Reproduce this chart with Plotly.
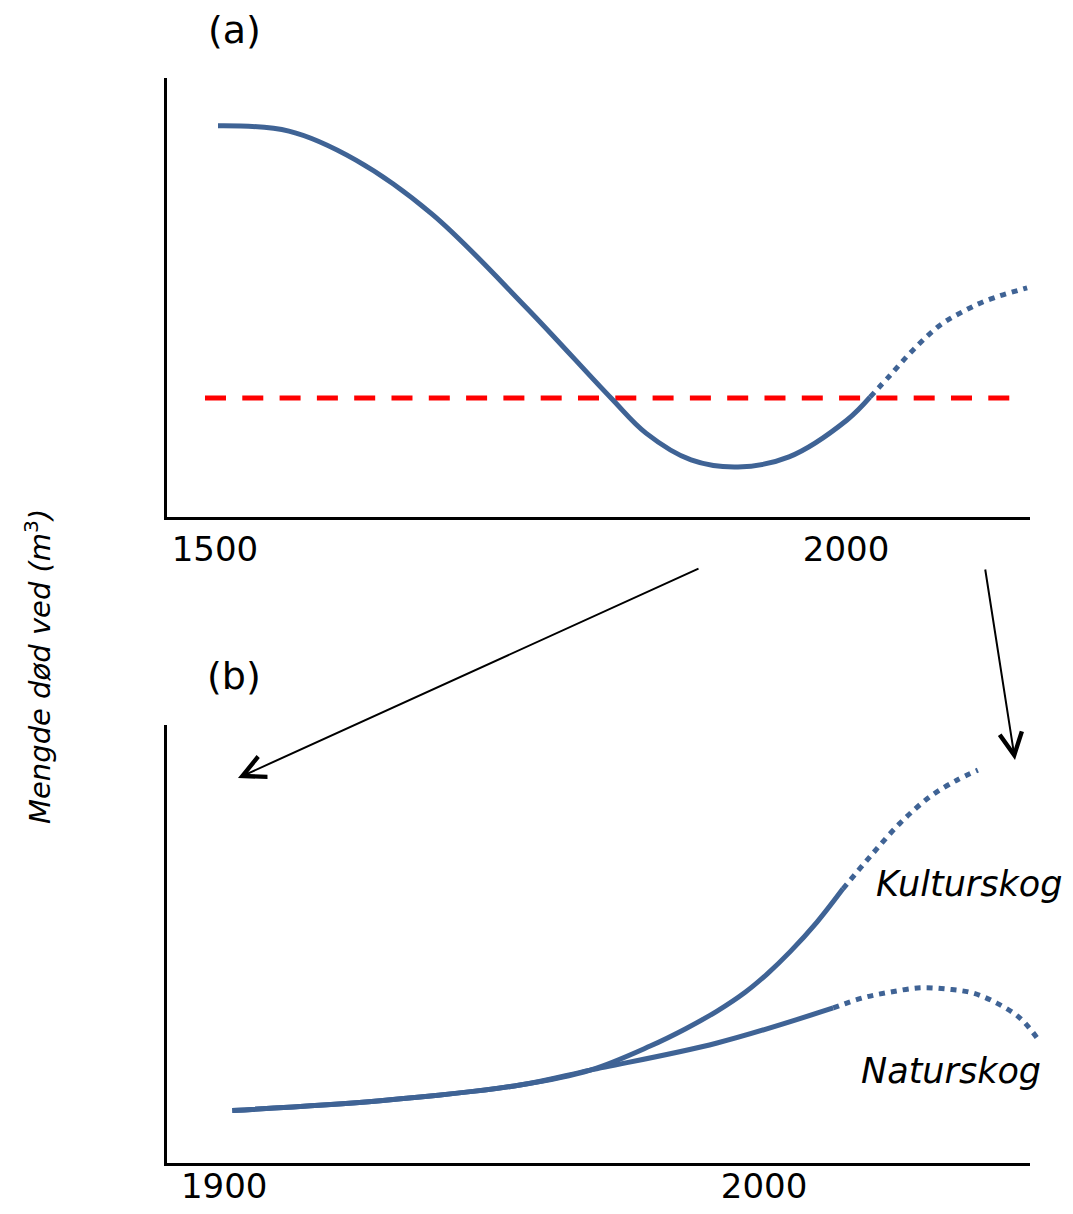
import plotly.graph_objects as go

# ---------------- data ----------------
# Panel (a): long-term trend of dead wood volume (arbitrary units 0-100)
a_years_hist = [1502.4, 1558.6, 1611.7, 1672.0, 1746.4, 1813.8, 1841.5, 1877.2,
                1914.4, 1954.8, 2000.8, 2019.0]
a_vals_hist = [89.1, 87.9, 81.3, 69.0, 47.8, 27.1, 19.1, 13.0,
               11.4, 13.7, 22.1, 27.3]
a_years_proj = [2019.0, 2035, 2053, 2074.5, 2092, 2112, 2143.5]
a_vals_proj = [27.3, 32.3, 38.0, 43.7, 46.7, 49.4, 52.2]
threshold_years = [1492.1, 2130.1]
threshold_vals = [27.1, 27.1]
a_tickvals = [1500, 2000]
a_ticktext = ["1500", "2000"]

# Panel (b): recent period, two forest types (shared start, then diverging)
b_base_years = [1901.5, 1928.9, 1954.8, 1967.8]
b_base_vals = [12.0, 14.2, 17.8, 21.2]
kultur_years = [1978.9, 1985.4, 1991.3, 1996.5, 2000.6, 2004.8, 2009.8, 2014.6]
kultur_vals = [26.7, 30.6, 34.7, 39.0, 43.2, 48.2, 55.0, 62.6]
kultur_proj_years = [2014.6, 2019.6, 2025.2, 2030.7, 2035.7, 2039.6]
kultur_proj_vals = [62.6, 69.9, 77.6, 83.6, 87.4, 89.7]
natur_years = [1991.3, 2012.8]
natur_vals = [27.4, 35.4]
natur_proj_years = [2012.8, 2018.3, 2023.3, 2028.9, 2033.9, 2038.7, 2043.1, 2047.4, 2050.6]
natur_proj_vals = [35.4, 37.7, 39.0, 40.0, 39.7, 38.8, 36.5, 33.1, 28.5]
b_tickvals = [1900, 2000]
b_ticktext = ["1900", "2000"]

# ---------------- style / geometry ----------------
BLUE = "#3F6395"
FONT = "DejaVu Sans"
PAGE_W, PAGE_H = 1073, 1214
OX, OY = 8, 8                      # page body margin
W, H = PAGE_W - OX, PAGE_H - OY


def px(p):
    return (p - OX) / W


def py(p):
    return 1 - (p - OY) / H


fig = go.Figure()


def curve(x, y, xa, ya, dash="solid"):
    fig.add_trace(go.Scatter(x=x, y=y, mode="lines", xaxis=xa, yaxis=ya,
                             line=dict(color=BLUE, width=5, shape="spline", smoothing=1.0,
                                       dash=dash),
                             showlegend=False, hoverinfo="skip"))


# panel a
fig.add_trace(go.Scatter(x=threshold_years, y=threshold_vals, mode="lines",
                         xaxis="x", yaxis="y",
                         line=dict(color="#FF0000", width=5, dash="21px,16.3px"),
                         showlegend=False, hoverinfo="skip"))
curve(a_years_hist, a_vals_hist, "x", "y")
curve(a_years_proj, a_vals_proj, "x", "y", dash="6px,6px")

# panel b
curve(b_base_years + kultur_years, b_base_vals + kultur_vals, "x2", "y2")
curve(kultur_proj_years, kultur_proj_vals, "x2", "y2", dash="6px,6px")
curve(b_base_years + natur_years, b_base_vals + natur_vals, "x2", "y2")
curve(natur_proj_years, natur_proj_vals, "x2", "y2", dash="6px,6px")

axis_common = dict(showgrid=False, zeroline=False, ticks="", fixedrange=True)
TICKFONT = dict(size=34, family=FONT, color="black")

fig.update_layout(
    width=W, height=H,
    margin=dict(l=0, r=0, t=0, b=0),
    paper_bgcolor="white", plot_bgcolor="white",
    font=dict(family=FONT, color="black"),
    xaxis=dict(domain=[px(167), px(1030.3)], range=[1462, 2146], anchor="y",
               showline=True, linecolor="black", linewidth=3,
               tickvals=a_tickvals, ticktext=a_ticktext, tickfont=TICKFONT,
               ticklabelstandoff=0, **axis_common),
    yaxis=dict(domain=[py(517), py(78)], range=[0, 100], anchor="x",
               showline=True, linecolor="black", linewidth=3,
               showticklabels=False, **axis_common),
    xaxis2=dict(domain=[px(167), px(1044.8)], range=[1889.4, 2052], anchor="y2",
                showline=False,
                tickvals=b_tickvals, ticktext=b_ticktext, tickfont=TICKFONT,
                ticklabelstandoff=0, **axis_common),
    yaxis2=dict(domain=[py(1163), py(725)], range=[0, 100], anchor="x2",
                showline=True, linecolor="black", linewidth=3,
                showticklabels=False, **axis_common),
)

# bottom axis line of panel b (stops short so the projection may overrun it)
fig.add_shape(type="line", xref="paper", yref="paper",
              x0=px(164), x1=px(1030), y0=py(1164.5), y1=py(1164.5),
              line=dict(color="black", width=3))

ann = []
for label, yc in (("(a)", 30), ("(b)", 676)):
    ann.append(dict(text=label, x=px(234), y=py(yc), xref="paper", yref="paper",
                    showarrow=False, xanchor="center", yanchor="middle",
                    font=dict(size=38, family=FONT, color="black")))
ann.append(dict(text="<i>Kulturskog</i>", x=px(969), y=py(884), xref="paper", yref="paper",
                showarrow=False, xanchor="center", yanchor="middle",
                font=dict(size=35, family=FONT, color="black")))
ann.append(dict(text="<i>Naturskog</i>", x=px(951), y=py(1071), xref="paper", yref="paper",
                showarrow=False, xanchor="center", yanchor="middle",
                font=dict(size=35, family=FONT, color="black")))
ann.append(dict(text="<i>Mengde død ved (m</i><sup>3</sup><i>)</i>", x=px(38), y=py(667),
                xref="paper", yref="paper", textangle=-90,
                showarrow=False, xanchor="center", yanchor="middle",
                font=dict(size=29, family=FONT, color="black")))
# arrows linking panel (a) to panel (b)
ann.append(dict(text="", x=px(238), y=py(778), xref="paper", yref="paper",
                ax=700 - 238, ay=568 - 778, axref="pixel", ayref="pixel",
                showarrow=True, arrowhead=5, arrowsize=2.2, arrowwidth=2,
                arrowcolor="black", standoff=0, startstandoff=0))
ann.append(dict(text="", x=px(1015), y=py(760), xref="paper", yref="paper",
                ax=985 - 1015, ay=568 - 760, axref="pixel", ayref="pixel",
                showarrow=True, arrowhead=5, arrowsize=2.2, arrowwidth=2,
                arrowcolor="black", standoff=0, startstandoff=0))
fig.update_layout(annotations=ann)

fig.write_html("out.html")
